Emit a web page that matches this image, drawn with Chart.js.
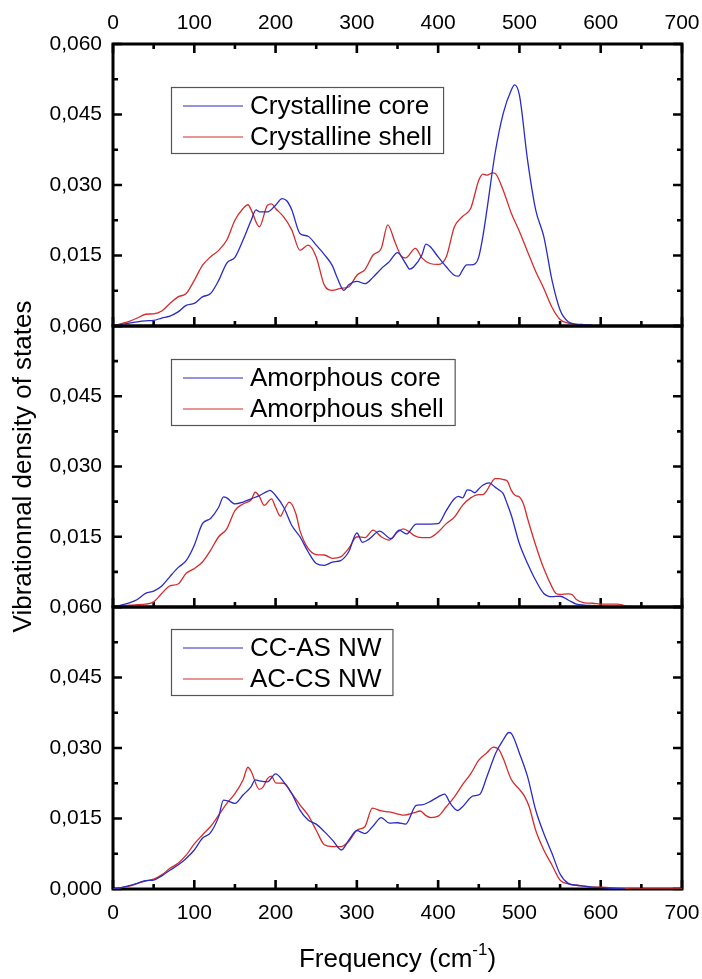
<!DOCTYPE html>
<html>
<head>
<meta charset="utf-8">
<script src="https://cdn.jsdelivr.net/npm/chart.js@4.4.1/dist/chart.umd.min.js"></script>
<style>
  html, body { margin: 0; padding: 0; background: #fff; }
  #wrap { position: relative; width: 702px; height: 979px; }
  #wrap canvas { position: absolute; left: 0; top: 0; }
</style>
</head>
<body>
<div id="wrap">
  <canvas id="c0" width="702" height="979"></canvas>
  <canvas id="c1" width="702" height="979"></canvas>
  <canvas id="c2" width="702" height="979"></canvas>
</div>
<script>
// ---- data (frequency in cm-1, VDOS) ----
const crystCoreFreq = [0,10,20,30,40,50,60,70,80,90,100,110,120,130,140,150,160,170,176,180,190,200,208,214,220,230,240,250,260,270,276,284,290,300,310,320,330,340,350,360,365,370,380,385,390,400,410,420,425,430,435,440,446,450,455,460,470,480,490,494,500,510,520,530,540,550,560,570,580,590];
const crystCoreVdos = [0,0.0003,0.0006,0.0009,0.0011,0.0012,0.0017,0.0021,0.003,0.0044,0.0048,0.0062,0.0069,0.0097,0.0134,0.0146,0.0183,0.0225,0.0247,0.0243,0.0243,0.0257,0.0271,0.0266,0.0247,0.0197,0.0191,0.0172,0.0152,0.0128,0.0102,0.0076,0.0088,0.0095,0.009,0.0104,0.0122,0.0137,0.0156,0.0133,0.0121,0.0126,0.0151,0.0174,0.0169,0.0147,0.0126,0.0108,0.0106,0.0119,0.013,0.013,0.0133,0.0147,0.019,0.0247,0.0367,0.0452,0.0502,0.0513,0.0491,0.0353,0.0247,0.019,0.0098,0.0034,0.0009,0.0004,0.0003,0.0002];

const crystShellFreq = [0,10,20,30,40,50,60,70,80,90,100,110,120,130,140,150,160,166,170,180,190,195,200,210,220,230,240,250,260,270,280,290,300,310,320,330,338,347,355,360,372,380,390,400,410,420,430,440,450,455,460,467,470,480,490,500,510,520,530,540,550,560,570,580,600,650,700];
const crystShellVdos = [0,0.0005,0.001,0.0017,0.0025,0.0026,0.0032,0.0048,0.0062,0.0069,0.0097,0.0129,0.0147,0.0161,0.0183,0.0225,0.025,0.0258,0.0247,0.0211,0.0257,0.026,0.025,0.0232,0.0204,0.0161,0.0172,0.0147,0.0087,0.0076,0.008,0.0083,0.0108,0.012,0.0151,0.0165,0.0215,0.0178,0.0148,0.0145,0.0165,0.0145,0.0133,0.0131,0.0147,0.0211,0.0233,0.025,0.031,0.0323,0.0321,0.0326,0.0325,0.0289,0.024,0.0201,0.0158,0.0116,0.008,0.004,0.0014,0.0006,0.0003,0.0001,0.0001,0,0];

const amorCoreFreq = [0,10,20,30,40,50,60,70,80,90,100,110,120,130,136,140,150,160,170,180,190,193,200,210,220,230,240,250,260,270,280,290,300,307,315,328,342,352,361,373,380,390,400,410,420,425,430,436,440,445,450,455,463,470,475,480,485,490,500,510,520,530,540,550,560,570,580,590,600,610,620,640];
const amorCoreVdos = [0,0.0004,0.0009,0.0016,0.0029,0.0034,0.0045,0.0065,0.0084,0.0099,0.0132,0.0178,0.0189,0.0213,0.0235,0.0233,0.022,0.0224,0.0231,0.0238,0.0247,0.0249,0.0238,0.0213,0.0174,0.015,0.0118,0.0093,0.0089,0.0096,0.0099,0.0118,0.0158,0.0138,0.0145,0.0162,0.0146,0.0164,0.0156,0.0177,0.0177,0.0177,0.0178,0.0206,0.0231,0.0236,0.0233,0.025,0.0249,0.0244,0.0252,0.026,0.0265,0.0256,0.025,0.0242,0.022,0.0196,0.0135,0.0093,0.0057,0.0029,0.0022,0.0023,0.0015,0.0006,0.0004,0.0003,0.0002,0.0001,0,0];

const amorShellFreq = [0,10,20,30,40,50,60,70,80,90,100,110,120,130,140,150,160,170,175,180,186,195,200,206,210,217,225,230,240,250,260,270,280,290,300,310,320,330,340,350,357,365,370,380,390,395,400,410,420,430,440,450,455,460,465,470,475,480,485,490,495,500,505,510,520,530,540,545,550,560,565,570,580,590,600,610,620,630,640,650,700];
const amorShellVdos = [0,0.0002,0.0004,0.0005,0.0006,0.0011,0.0029,0.0045,0.0049,0.0072,0.0082,0.0096,0.0121,0.015,0.0167,0.0206,0.022,0.0229,0.0245,0.0236,0.0217,0.0231,0.0213,0.0194,0.0206,0.0224,0.0199,0.0163,0.0125,0.0112,0.0111,0.0104,0.0107,0.0125,0.015,0.0148,0.0164,0.015,0.0143,0.016,0.0167,0.016,0.0153,0.0148,0.0148,0.0153,0.016,0.0178,0.0192,0.0217,0.0233,0.024,0.024,0.0249,0.0264,0.0274,0.0274,0.0272,0.0269,0.0249,0.0238,0.0235,0.022,0.0189,0.0132,0.0082,0.0043,0.0029,0.0027,0.0028,0.0026,0.0016,0.0009,0.0008,0.0006,0.0006,0.0006,0.0003,0.0001,0,0];

const ccasFreq = [0,10,20,30,40,50,60,70,80,90,100,110,120,130,136,140,150,160,170,175,180,190,200,210,220,230,240,250,260,270,281,290,300,310,320,330,340,350,360,373,380,390,400,408,415,424,430,443,451,460,471,480,487,490,500,510,520,530,540,550,560,570,580,590,600,610,620,630];
const ccasVdos = [0,0.0003,0.0007,0.0012,0.0018,0.0019,0.0028,0.004,0.0051,0.0065,0.0083,0.0108,0.012,0.0154,0.0189,0.0188,0.0182,0.02,0.0218,0.0232,0.023,0.0228,0.0245,0.0228,0.0203,0.0168,0.0147,0.0138,0.0122,0.0104,0.0083,0.0104,0.0124,0.0118,0.0134,0.0152,0.014,0.0141,0.0138,0.0178,0.0179,0.0186,0.0196,0.0202,0.0182,0.0167,0.0175,0.0198,0.0201,0.0239,0.029,0.0317,0.0333,0.0331,0.0289,0.0239,0.0168,0.0118,0.0076,0.0032,0.0012,0.0008,0.0006,0.0004,0.0003,0.0002,0.0001,0];

const accsFreq = [0,10,20,30,40,50,60,70,80,90,100,110,120,130,140,150,160,166,170,180,185,190,195,200,210,220,230,240,250,260,270,280,290,300,310,319,330,340,358,370,378,385,391,400,410,420,430,440,450,460,468,475,480,490,500,506,512,520,530,540,550,560,570,580,590,600,610,620,630,640,700];
const accsVdos = [0,0.0003,0.0006,0.0012,0.0017,0.0021,0.003,0.0044,0.0055,0.0072,0.0096,0.0115,0.0133,0.0157,0.0182,0.0203,0.0232,0.0259,0.025,0.0212,0.0218,0.0235,0.024,0.0226,0.0225,0.0203,0.0179,0.0157,0.0125,0.0094,0.009,0.009,0.0101,0.0125,0.0133,0.0172,0.0166,0.0164,0.0157,0.0162,0.0166,0.0156,0.0152,0.0155,0.0175,0.0196,0.0222,0.0245,0.0274,0.029,0.0302,0.0296,0.0278,0.0233,0.0212,0.0198,0.0175,0.0125,0.0083,0.0051,0.0019,0.0011,0.0008,0.0006,0.0004,0.0004,0.0003,0.0002,0.0001,0,0];

const xTickValues = [0,50,100,150,200,250,300,350,400,450,500,550,600,650,700];
const yTickValues = [0,0.0075,0.015,0.0225,0.03,0.0375,0.045,0.0525,0.06];

const BLUE = '#2a2ac4';
const RED = '#d42c2c';
const FONT = '"Liberation Sans", Arial, sans-serif';

const panels = [
  { id: 'c0', labels: ['Crystalline core', 'Crystalline shell'],
    series: [[crystCoreFreq, crystCoreVdos], [crystShellFreq, crystShellVdos]] },
  { id: 'c1', labels: ['Amorphous core', 'Amorphous shell'],
    series: [[amorCoreFreq, amorCoreVdos], [amorShellFreq, amorShellVdos]] },
  { id: 'c2', labels: ['CC-AS NW', 'AC-CS NW'],
    series: [[ccasFreq, ccasVdos], [accsFreq, accsVdos]] }
];

// layout of the three stacked plot boxes (pixels)
const boxTop = [44, 326, 607];
const boxBottom = [326, 607, 889];
const legendTop = [87, 359, 629];

const framePlugin = {
  id: 'frame',
  beforeDatasetsDraw(chart, args, opts) {
    const { ctx, chartArea: a, scales: { x, y } } = chart;
    ctx.save();
    ctx.strokeStyle = '#000';
    ctx.lineWidth = 3;
    ctx.strokeRect(a.left, a.top, a.right - a.left, a.bottom - a.top);
    ctx.lineWidth = 2.6;
    ctx.beginPath();
    xTickValues.forEach(v => {
      const px = x.getPixelForValue(v);
      const len = v % 100 === 0 ? 9 : 5;
      ctx.moveTo(px, a.bottom); ctx.lineTo(px, a.bottom - len);
      if (opts.topTicks) { ctx.moveTo(px, a.top); ctx.lineTo(px, a.top + len); }
    });
    yTickValues.forEach((v, i) => {
      const py = y.getPixelForValue(v);
      const len = i % 2 === 0 ? 9 : 5;
      ctx.moveTo(a.left, py); ctx.lineTo(a.left + len, py);
      ctx.moveTo(a.right, py); ctx.lineTo(a.right - len, py);
    });
    ctx.stroke();
    ctx.restore();
  }
};

const boxLegendPlugin = {
  id: 'boxLegend',
  afterDatasetsDraw(chart, args, opts) {
    const { ctx } = chart;
    const sets = chart.data.datasets;
    ctx.save();
    ctx.font = '26px ' + FONT;
    const textW = Math.max(...sets.map(d => ctx.measureText(d.label).width));
    const left = opts.left, top = opts.top;
    const w = 79 + textW + 11, h = 66;
    ctx.fillStyle = '#fff';
    ctx.fillRect(left, top, w, h);
    ctx.strokeStyle = '#555';
    ctx.lineWidth = 1.2;
    ctx.strokeRect(left + 0.5, top + 0.5, w, h);
    sets.forEach((d, i) => {
      const cy = top + 19 + i * 31;
      ctx.strokeStyle = d.borderColor;
      ctx.lineWidth = 1.2;
      ctx.beginPath();
      ctx.moveTo(left + 12, cy);
      ctx.lineTo(left + 72, cy);
      ctx.stroke();
      ctx.fillStyle = '#000';
      ctx.textBaseline = 'middle';
      ctx.fillText(d.label, left + 79, cy + 1);
    });
    ctx.restore();
  }
};

const xTitlePlugin = {
  id: 'xTitle',
  afterDraw(chart, args, opts) {
    if (!opts.show) return;
    const { ctx, chartArea: a } = chart;
    const main = 'Frequency (cm', sup = '-1', close = ')';
    ctx.save();
    ctx.fillStyle = '#000';
    ctx.textBaseline = 'alphabetic';
    ctx.font = '26px ' + FONT;
    const w1 = ctx.measureText(main).width, w3 = ctx.measureText(close).width;
    ctx.font = '17px ' + FONT;
    const w2 = ctx.measureText(sup).width;
    const xx = (a.left + a.right) / 2 - (w1 + w2 + w3) / 2;
    const base = 967;
    ctx.font = '26px ' + FONT;
    ctx.fillText(main, xx, base);
    ctx.font = '17px ' + FONT;
    ctx.fillText(sup, xx + w1, base - 12);
    ctx.font = '26px ' + FONT;
    ctx.fillText(close, xx + w1 + w2, base);
    ctx.restore();
  }
};

function fmt(v) {
  return v.toFixed(3).replace('.', ',');
}

function createPanel(p, idx) {
  const isTop = idx === 0, isBottom = idx === 2;
  const colors = [BLUE, RED];
  return new Chart(document.getElementById(p.id), {
    type: 'line',
    data: {
      datasets: p.series.map((s, k) => ({
        label: p.labels[k],
        data: s[0].map((f, i) => ({ x: f, y: s[1][i] })),
        borderColor: colors[k],
        borderWidth: 1.3,
        pointRadius: 0,
        fill: false,
        cubicInterpolationMode: 'monotone'
      }))
    },
    options: {
      responsive: false,
      animation: false,
      devicePixelRatio: 1,
      events: [],
      layout: {
        padding: {
          left: 0,
          right: 20,
          top: isTop ? 0 : boxTop[idx],
          bottom: isBottom ? 0 : 979 - boxBottom[idx]
        }
      },
      plugins: {
        legend: { display: false },
        tooltip: { enabled: false },
        frame: { topTicks: isTop },
        boxLegend: { left: 171, top: legendTop[idx] },
        xTitle: { show: isBottom }
      },
      scales: {
        x: {
          type: 'linear',
          min: 0, max: 700,
          position: isTop ? 'top' : 'bottom',
          display: isTop || isBottom,
          grid: { display: true, drawOnChartArea: false, drawTicks: true, tickLength: isTop ? 8 : 12, tickColor: 'rgba(0,0,0,0)' },
          border: { display: false },
          ticks: { stepSize: 100, autoSkip: false, maxRotation: 0, padding: 0, color: '#000', font: { family: FONT, size: 21 } },
          afterFit: s => { s.height = isTop ? 44 : (isBottom ? 90 : 0); }
        },
        y: {
          min: 0, max: 0.06,
          grid: { display: false, drawTicks: false },
          border: { display: false },
          ticks: {
            stepSize: 0.015, autoSkip: false, padding: 11, color: '#000',
            font: { family: FONT, size: 21 },
            callback: v => (v === 0 && !isBottom) ? '' : fmt(v)
          },
          title: {
            display: idx === 1,
            text: 'Vibrationnal density of states',
            color: '#000',
            font: { family: FONT, size: 26 },
            padding: { top: 8, bottom: 0 }
          },
          afterFit: s => { s.width = 113; }
        }
      }
    },
    plugins: [framePlugin, boxLegendPlugin, xTitlePlugin]
  });
}

panels.forEach(createPanel);
</script>
</body>
</html>
